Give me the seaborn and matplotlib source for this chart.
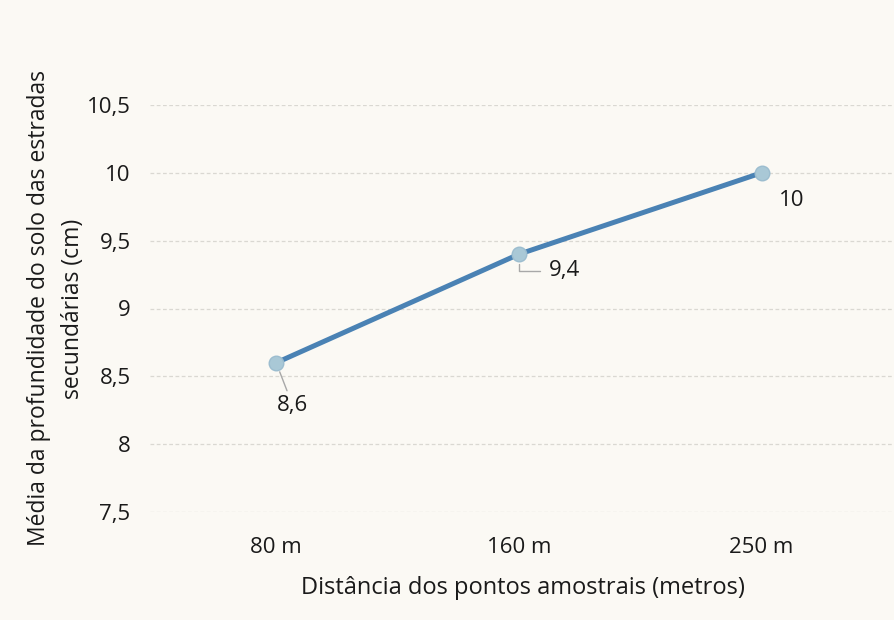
import matplotlib
matplotlib.use("Agg")
import matplotlib.pyplot as plt
import seaborn as sns
import pandas as pd

# dados
distancias = ["80 m", "160 m", "250 m"]
profundidade = [8.6, 9.4, 10.0]
rotulos = ["8,6", "9,4", "10"]
yticks = [7.5, 8, 8.5, 9, 9.5, 10, 10.5]
ytick_labels = ["7,5", "8", "8,5", "9", "9,5", "10", "10,5"]

sns.set_theme(style="white")
plt.rcParams['font.family'] = ['Open Sans', 'DejaVu Sans']

fundo = "#fbf9f4"
texto = "#1a1a1a"
fig = plt.figure(figsize=(8.95, 6.2), dpi=100, facecolor=fundo)
ax = fig.add_axes([150 / 895, 1 - 512 / 620, 745 / 895, (512 - 105) / 620])
ax.set_facecolor(fundo)

df = pd.DataFrame({"dist": distancias, "prof": profundidade})
sns.lineplot(data=df, x="dist", y="prof", ax=ax, color="#4a82b4", linewidth=3.6,
             marker="o", markersize=10.5, markerfacecolor="#a9c8d6",
             markeredgecolor="#9cbdcf", markeredgewidth=1)

ax.set_xlim(-0.52, 2.55)
ax.set_ylim(7.5, 10.5)
ax.set_yticks(yticks)
ax.set_yticklabels(ytick_labels)
ax.yaxis.grid(True, linestyle=(0, (3, 2)), color="#dad8d2", linewidth=0.9)
ax.xaxis.grid(False)
for s in ax.spines.values():
    s.set_visible(False)
ax.tick_params(axis="y", length=0, pad=14, labelsize=16, labelcolor=texto)
ax.tick_params(axis="x", length=0, pad=18, labelsize=16, labelcolor=texto)

ax.set_xlabel("Distância dos pontos amostrais (metros)", fontsize=17, color=texto, labelpad=13)
ax.set_ylabel("Média da profundidade do solo das estradas\nsecundárias (cm)", fontsize=16.5,
              color=texto, labelpad=1, linespacing=1.55)

# rótulos de dados com linhas de chamada
offsets = [(12, -31), (33, -12), (22, -20)]
estilos = [dict(arrowstyle="-", color="#a8a8a8", lw=1, shrinkA=1, shrinkB=7),
           dict(arrowstyle="-", color="#a8a8a8", lw=1, shrinkA=4, shrinkB=7,
                connectionstyle="angle,angleA=0,angleB=90,rad=0"),
           None]
for i, (v, txt) in enumerate(zip(profundidade, rotulos)):
    ax.annotate(txt, xy=(i, v), xytext=offsets[i], textcoords="offset points",
                fontsize=16, color=texto, ha="center", va="center",
                arrowprops=estilos[i])

fig.savefig("out.png", dpi=100, facecolor=fundo)
